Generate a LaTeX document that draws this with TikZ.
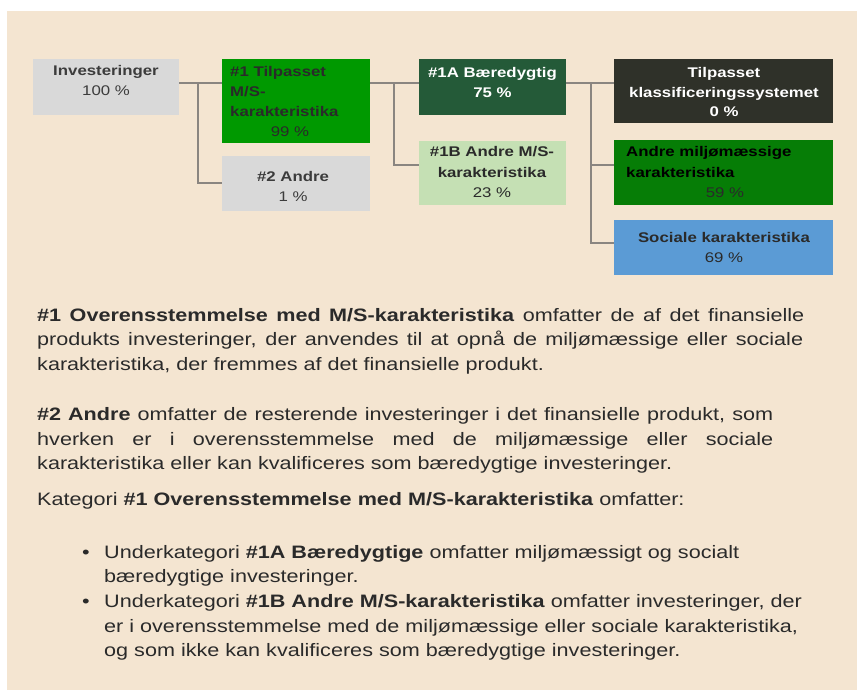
\documentclass[tikz,border=0pt]{standalone}
\usepackage{fontspec}
\setmainfont{Liberation Sans}[FakeStretch=1.2]
\definecolor{bg}{HTML}{F4E5D1}
\definecolor{graybox}{HTML}{D9D9D9}
\definecolor{grn}{HTML}{009900}
\definecolor{dkgrn}{HTML}{245A38}
\definecolor{ltgrn}{HTML}{C5E0B4}
\definecolor{dkbox}{HTML}{2F3129}
\definecolor{midgrn}{HTML}{067D06}
\definecolor{blu}{HTML}{5B9BD5}
\definecolor{conn}{HTML}{8A8580}
\definecolor{txt}{HTML}{2A2A2A}
\definecolor{graytxt}{HTML}{3C3C3C}
\tikzset{
  bx/.style={draw=none, inner sep=0pt, outer sep=0pt, anchor=north west},
  bt/.style={inner sep=0pt, anchor=base, font=\fontsize{14}{20}\selectfont},
  btl/.style={inner sep=0pt, anchor=base west, font=\fontsize{14}{20}\selectfont},
  body/.style={inner sep=0pt, anchor=base west, text=txt, font=\fontsize{18}{24.5}\selectfont},
  cn/.style={draw=conn, line width=2pt}
}
\begin{document}
\begin{tikzpicture}[x=1pt,y=-1pt]
\useasboundingbox (0,0) rectangle (857,690);
\fill[white] (0,0) rectangle (857,690);
\fill[bg] (7,11) rectangle (857,690);
% boxes
\node[bx, fill=graybox, minimum width=146pt, minimum height=56pt] (inv) at (33,59) {};
\node[bx, fill=grn, minimum width=148pt, minimum height=84pt] (t1) at (222,59) {};
\node[bx, fill=graybox, minimum width=148pt, minimum height=55pt] (a2) at (222,156) {};
\node[bx, fill=dkgrn, minimum width=147pt, minimum height=56pt] (b1a) at (419,59) {};
\node[bx, fill=ltgrn, minimum width=147pt, minimum height=64pt] (b1b) at (419,141) {};
\node[bx, fill=dkbox, minimum width=219pt, minimum height=64pt] (tk) at (614,59) {};
\node[bx, fill=midgrn, minimum width=219pt, minimum height=65pt] (am) at (614,140) {};
\node[bx, fill=blu, minimum width=219pt, minimum height=55pt] (so) at (614,220) {};
% connectors
\coordinate (j1) at (198,83);
\coordinate (j2) at (394,83);
\coordinate (j3) at (591,83);
\draw[cn] (inv.east |- j1) -- (t1.west |- j1);
\draw[cn] (j1) |- (a2.west);
\draw[cn] (t1.east |- j2) -- (b1a.west |- j2);
\draw[cn] (j2) |- ([yshift=8pt]b1b.west);
\draw[cn] (b1a.east |- j3) -- (tk.west |- j3);
\draw[cn] (j3) |- ([yshift=7.5pt]am.west);
\draw[cn] (j3) |- ([yshift=4.5pt]so.west);
% box texts
\node[bt, text=graytxt] (inv1) at (106,76) {\textbf{Investeringer}};
\node[bt, text=graytxt] (inv2) at (106,96) {100 \%};
\node[btl, text=txt] (t11) at (230,77) {\textbf{\#1 Tilpasset}};
\node[btl, text=txt] (t12) at (230,97) {\textbf{M/S-}};
\node[btl, text=txt] (t13) at (230,117) {\textbf{karakteristika}};
\node[bt, text=txt] (t14) at (290,137) {99 \%};
\node[bt, text=graytxt] (a21) at (293,181.5) {\textbf{\#2 Andre}};
\node[bt, text=graytxt] (a22) at (293,201.5) {1 \%};
\node[bt, text=white] (b1a1) at (492.5,78) {\textbf{\#1A Bæredygtig}};
\node[bt, text=white] (b1a2) at (492.5,98) {\textbf{75 \%}};
\node[bt, text=txt] (b1b1) at (492,157) {\textbf{\#1B Andre M/S-}};
\node[bt, text=txt] (b1b2) at (492,177.5) {\textbf{karakteristika}};
\node[bt, text=txt] (b1b3) at (492,197) {23 \%};
\node[bt, text=white] (tk1) at (724,78) {\textbf{Tilpasset}};
\node[bt, text=white] (tk2) at (724,98) {\textbf{klassificeringssystemet}};
\node[bt, text=white] (tk3) at (724,117) {\textbf{0 \%}};
\node[btl, text=black] (am1) at (626,157) {\textbf{Andre miljømæssige}};
\node[btl, text=black] (am2) at (626,177.5) {\textbf{karakteristika}};
\node[bt, text=txt] (am3) at (725,197.5) {59 \%};
\node[bt, text=txt] (so1) at (724,242) {\textbf{Sociale karakteristika}};
\node[bt, text=txt] (so2) at (724,262.5) {69 \%};
% body text
\node[body] (p11) at (37,321) {\makebox[767pt][s]{\textbf{\#1 Overensstemmelse med M/S-karakteristika} omfatter de af det finansielle}};
\node[body] (p12) at (37,345.5) {\makebox[766pt][s]{produkts investeringer, der anvendes til at opnå de miljømæssige eller sociale}};
\node[body] (p13) at (37,370) {karakteristika, der fremmes af det finansielle produkt.};
\node[body] (p21) at (37,420.5) {\makebox[736pt][s]{\textbf{\#2 Andre} omfatter de resterende investeringer i det finansielle produkt, som}};
\node[body] (p22) at (37,445) {\makebox[736pt][s]{hverken er i overensstemmelse med de miljømæssige eller sociale}};
\node[body] (p23) at (37,469.5) {karakteristika eller kan kvalificeres som bæredygtige investeringer.};
\node[body] (k1) at (37,505) {Kategori \textbf{\#1 Overensstemmelse med M/S-karakteristika} omfatter:};
\node[body] (bu1) at (82,558) {\textbullet};
\node[body] (b11) at (104,558) {Underkategori \textbf{\#1A Bæredygtige} omfatter miljømæssigt og socialt};
\node[body] (b12) at (104,582.5) {bæredygtige investeringer.};
\node[body] (bu2) at (82,607.5) {\textbullet};
\node[body] (b21) at (104,607.5) {Underkategori \textbf{\#1B Andre M/S-karakteristika} omfatter investeringer, der};
\node[body] (b22) at (104,632) {er i overensstemmelse med de miljømæssige eller sociale karakteristika,};
\node[body] (b23) at (104,656) {og som ikke kan kvalificeres som bæredygtige investeringer.};
\end{tikzpicture}
\end{document}
